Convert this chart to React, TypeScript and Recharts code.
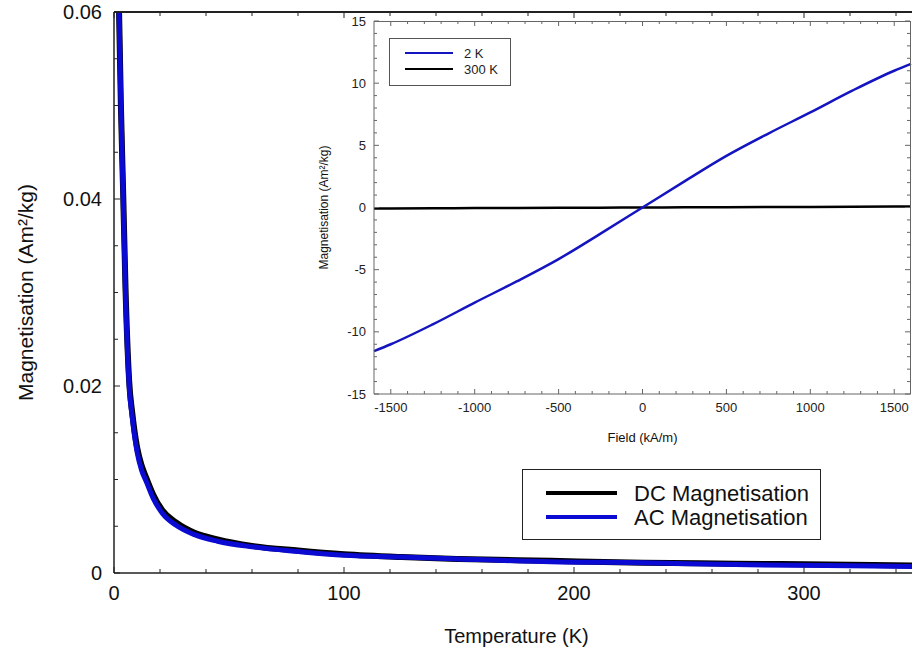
import { LineChart, Line, XAxis, YAxis, Legend } from 'recharts'

const FONT = '"Liberation Sans", Arial, sans-serif'

// main chart: magnetisation vs temperature
const tempK = [2.2, 3, 4, 5, 6.6, 8, 10, 12, 14, 17, 21, 27, 35, 45, 60, 80, 100, 125, 150, 190, 230, 270, 310, 350]
const acMag = [0.06, 0.05, 0.04, 0.03, 0.02, 0.0165, 0.013, 0.011, 0.0098, 0.008, 0.0064, 0.0051, 0.0041, 0.0034, 0.0028, 0.0023, 0.0019, 0.0017, 0.0015, 0.0012, 0.0011, 0.0009, 0.0008, 0.0007]
const dcMag = [0.06, 0.05, 0.0405, 0.0305, 0.0205, 0.017, 0.0135, 0.0115, 0.0102, 0.0084, 0.0067, 0.0054, 0.0043, 0.0036, 0.0029, 0.0024, 0.002, 0.0017, 0.0015, 0.0013, 0.0011, 0.001, 0.0009, 0.0008]
const tempDomain = [0, 350]
const magDomain = [0, 0.06]
const tempTicks = [0, 20, 40, 60, 80, 100, 120, 140, 160, 180, 200, 220, 240, 260, 280, 300, 320, 340]
const magTicks = [0, 0.005, 0.01, 0.015, 0.02, 0.025, 0.03, 0.035, 0.04, 0.045, 0.05, 0.055, 0.06]

// inset: hysteresis loops
const fieldKAm = [-1600, -1500, -1250, -1000, -750, -500, -250, 0, 250, 500, 750, 1000, 1250, 1500, 1600]
const mag2K = [-11.55, -11.0, -9.4, -7.65, -5.95, -4.15, -2.1, 0, 2.1, 4.15, 5.95, 7.65, 9.4, 11.0, 11.55]
const mag300K = [-0.08, -0.075, -0.062, -0.05, -0.037, -0.025, -0.012, 0, 0.012, 0.025, 0.037, 0.05, 0.062, 0.075, 0.08]
const fieldDomain = [-1600, 1600]
const insetMagDomain = [-15, 15]
const fieldTicks = Array.from({ length: 31 }, (_, i) => -1500 + i * 100)
const insetMagTicks = Array.from({ length: 31 }, (_, i) => -15 + i)

const mainData = tempK.map((t, i) => ({ t, dc: dcMag[i], ac: acMag[i] }))
const insetData = fieldKAm.map((h, i) => ({ h, k2: mag2K[i], k300: mag300K[i] }))

const mainLegendOrder = ['DC Magnetisation', 'AC Magnetisation']
const insetLegendOrder = ['2 K', '300 K']

// chart boxes (the frame overlay reuses them)
const MAIN = { w: 925, h: 654, top: 12, right: 6, yAxisW: 114, xAxisH: 81 }
const INSET = { left: 300, w: 620, h: 460, top: 21, right: 9, yAxisW: 74, xAxisH: 66 }

const isMajor = (v: number, step: number) => Math.abs(v / step - Math.round(v / step)) < 1e-6

const MainBottomTick = (p: any) => {
  const v = p.payload.value
  const major = isMajor(v, 100)
  return (
    <g>
      <line x1={p.x} x2={p.x} y1={p.y} y2={p.y - (major ? 6 : 4)} stroke="#222" />
      {major && (
        <text x={p.x} y={p.y + 20} textAnchor="middle" dominantBaseline="central" fontSize={20} fill="#111" fontFamily={FONT}>
          {v}
        </text>
      )}
    </g>
  )
}

const MainLeftTick = (p: any) => {
  const v = p.payload.value
  const major = isMajor(v, 0.02)
  return (
    <g>
      <line x1={p.x} x2={p.x + (major ? 6 : 4)} y1={p.y} y2={p.y} stroke="#222" />
      {major && (
        <text x={p.x - 12} y={p.y} textAnchor="end" dominantBaseline="central" fontSize={20} fill="#111" fontFamily={FONT}>
          {v === 0 ? '0' : v.toFixed(2)}
        </text>
      )}
    </g>
  )
}

const InsetBottomTick = (p: any) => {
  const v = p.payload.value
  const major = isMajor(v, 500)
  return (
    <g>
      <line x1={p.x} x2={p.x} y1={p.y} y2={p.y - (major ? 5 : 3)} stroke="#666" />
      {major && (
        <text x={p.x} y={p.y + 13} textAnchor="middle" dominantBaseline="central" fontSize={13} fill="#222" fontFamily={FONT}>
          {v}
        </text>
      )}
    </g>
  )
}

const InsetLeftTick = (p: any) => {
  const v = p.payload.value
  const major = isMajor(v, 5)
  return (
    <g>
      <line x1={p.x} x2={p.x + (major ? 5 : 3)} y1={p.y} y2={p.y} stroke="#666" />
      {major && (
        <text x={p.x - 8} y={p.y} textAnchor="end" dominantBaseline="central" fontSize={13} fill="#222" fontFamily={FONT}>
          {v}
        </text>
      )}
    </g>
  )
}

const yTitle = (cx: number, size: number, text: string) => (props: any) => {
  const vb = props.viewBox
  const cy = vb.y + vb.height / 2
  return (
    <text x={cx} y={cy} transform={`rotate(-90 ${cx} ${cy})`} textAnchor="middle" dominantBaseline="central" fontSize={size} fill="#111" fontFamily={FONT}>
      {text}
    </text>
  )
}

const xTitle = (dy: number, size: number, text: string) => (props: any) => {
  const vb = props.viewBox
  return (
    <text x={vb.x + vb.width / 2} y={vb.y + dy} textAnchor="middle" dominantBaseline="central" fontSize={size} fill="#111" fontFamily={FONT}>
      {text}
    </text>
  )
}

const sortPayload = (payload: any[] = [], order: string[]) =>
  order.map(name => payload.find(e => e.value === name)).filter(Boolean)

const MainLegend = ({ payload }: any) => (
  <svg width={299} height={71}>
    <rect x={0.5} y={0.5} width={298} height={70} fill="#fff" stroke="#222" />
    {sortPayload(payload, mainLegendOrder).map((e: any, i: number) => (
      <g key={e.value}>
        <line x1={24} x2={95} y1={24 + i * 24} y2={24 + i * 24} stroke={e.color} strokeWidth={4} />
        <text x={112} y={24 + i * 24} dominantBaseline="central" fontSize={22} fill="#111" fontFamily={FONT}>
          {e.value}
        </text>
      </g>
    ))}
  </svg>
)

const InsetLegend = ({ payload }: any) => (
  <svg width={122} height={48}>
    <rect x={0.5} y={0.5} width={121} height={47} fill="#fff" stroke="#555" />
    {sortPayload(payload, insetLegendOrder).map((e: any, i: number) => (
      <g key={e.value}>
        <line x1={16} x2={64} y1={15 + i * 16} y2={15 + i * 16} stroke={e.color} strokeWidth={2} />
        <text x={75} y={15 + i * 16} dominantBaseline="central" fontSize={13} fill="#222" fontFamily={FONT}>
          {e.value}
        </text>
      </g>
    ))}
  </svg>
)

// top and right frame edges with inward ticks
const m = { l: MAIN.yAxisW, r: MAIN.w - MAIN.right, t: MAIN.top }
const n = { l: INSET.left + INSET.yAxisW, r: INSET.left + INSET.w - INSET.right, t: INSET.top, b: INSET.h - INSET.xAxisH }

const Frames = () => {
  const mx = (v: number) => m.l + ((v - tempDomain[0]) / (tempDomain[1] - tempDomain[0])) * (m.r - m.l)
  const nx = (v: number) => n.l + ((v - fieldDomain[0]) / (fieldDomain[1] - fieldDomain[0])) * (n.r - n.l)
  const ny = (v: number) => n.b - ((v - insetMagDomain[0]) / (insetMagDomain[1] - insetMagDomain[0])) * (n.b - n.t)
  return (
    <>
      <div style={{ position: 'absolute', left: m.l, top: m.t - 1, width: 912 - m.l, height: 0, borderTop: '2px solid #222', zIndex: 5 }} />
      <div style={{ position: 'absolute', left: n.l, top: n.t, width: n.r - n.l, height: n.b - n.t, borderTop: '1px solid #666', borderRight: '1px solid #666', boxSizing: 'border-box', zIndex: 5 }} />
      <svg width={912} height={654} style={{ position: 'absolute', left: 0, top: 0, zIndex: 6, overflow: 'visible' }}>
        {tempTicks.map(v => (
          <line key={`m${v}`} x1={mx(v)} x2={mx(v)} y1={m.t} y2={m.t + (isMajor(v, 100) ? 6 : 4)} stroke="#222" />
        ))}
        {fieldTicks.map(v => (
          <line key={`f${v}`} x1={nx(v)} x2={nx(v)} y1={n.t} y2={n.t + (isMajor(v, 500) ? 5 : 3)} stroke="#666" />
        ))}
        {insetMagTicks.map(v => (
          <line key={`y${v}`} x1={n.r - 1} x2={n.r - 1 - (isMajor(v, 5) ? 5 : 3)} y1={ny(v)} y2={ny(v)} stroke="#666" />
        ))}
      </svg>
    </>
  )
}

export default function App() {
  return (
    <div style={{ position: 'fixed', left: 0, top: 0, width: 912, height: 654, overflow: 'hidden', background: '#fff', fontFamily: FONT }}>
      <div style={{ position: 'absolute', left: 0, top: 0 }}>
        <LineChart width={MAIN.w} height={MAIN.h} data={mainData} margin={{ top: MAIN.top, right: MAIN.right, bottom: 0, left: 0 }}>
          <XAxis
            dataKey="t"
            type="number"
            domain={tempDomain}
            ticks={tempTicks}
            interval={0}
            height={MAIN.xAxisH}
            tickSize={0}
            tickMargin={0}
            tickLine={false}
            axisLine={{ stroke: '#222', strokeWidth: 1.5 }}
            tick={MainBottomTick}
            label={xTitle(63, 20, 'Temperature (K)')}
          />
          <YAxis
            type="number"
            domain={magDomain}
            ticks={magTicks}
            interval={0}
            width={MAIN.yAxisW}
            tickSize={0}
            tickMargin={0}
            tickLine={false}
            allowDataOverflow
            axisLine={{ stroke: '#222', strokeWidth: 1.5 }}
            tick={MainLeftTick}
            label={yTitle(25, 21, 'Magnetisation (Am²/kg)')}
          />
          <Legend
            layout="vertical"
            align="center"
            verticalAlign="middle"
            content={MainLegend}
            wrapperStyle={{ left: 522, top: 469, width: 299, height: 71 }}
          />
          <Line type="monotone" dataKey="dc" name="DC Magnetisation" stroke="#000" strokeWidth={6} dot={false} isAnimationActive={false} />
          <Line type="monotone" dataKey="ac" name="AC Magnetisation" stroke="#0a0ad2" strokeWidth={5} dot={false} isAnimationActive={false} />
        </LineChart>
      </div>
      <div style={{ position: 'absolute', left: INSET.left, top: 0 }}>
        <LineChart width={INSET.w} height={INSET.h} data={insetData} margin={{ top: INSET.top, right: INSET.right, bottom: 0, left: 0 }}>
          <XAxis
            dataKey="h"
            type="number"
            domain={fieldDomain}
            ticks={fieldTicks}
            interval={0}
            height={INSET.xAxisH}
            tickSize={0}
            tickMargin={0}
            tickLine={false}
            axisLine={{ stroke: '#666' }}
            tick={InsetBottomTick}
            label={xTitle(43, 13, 'Field (kA/m)')}
          />
          <YAxis
            type="number"
            domain={insetMagDomain}
            ticks={insetMagTicks}
            interval={0}
            width={INSET.yAxisW}
            tickSize={0}
            tickMargin={0}
            tickLine={false}
            axisLine={{ stroke: '#666' }}
            tick={InsetLeftTick}
            label={yTitle(24, 12, 'Magnetisation (Am²/kg)')}
          />
          <Legend
            layout="vertical"
            align="center"
            verticalAlign="middle"
            content={InsetLegend}
            wrapperStyle={{ left: 89, top: 38, width: 122, height: 48 }}
          />
          <Line type="monotone" dataKey="k300" name="300 K" stroke="#000" strokeWidth={2.5} dot={false} isAnimationActive={false} />
          <Line type="monotone" dataKey="k2" name="2 K" stroke="#1414c0" strokeWidth={2.5} dot={false} isAnimationActive={false} />
        </LineChart>
      </div>
      <Frames />
    </div>
  )
}
